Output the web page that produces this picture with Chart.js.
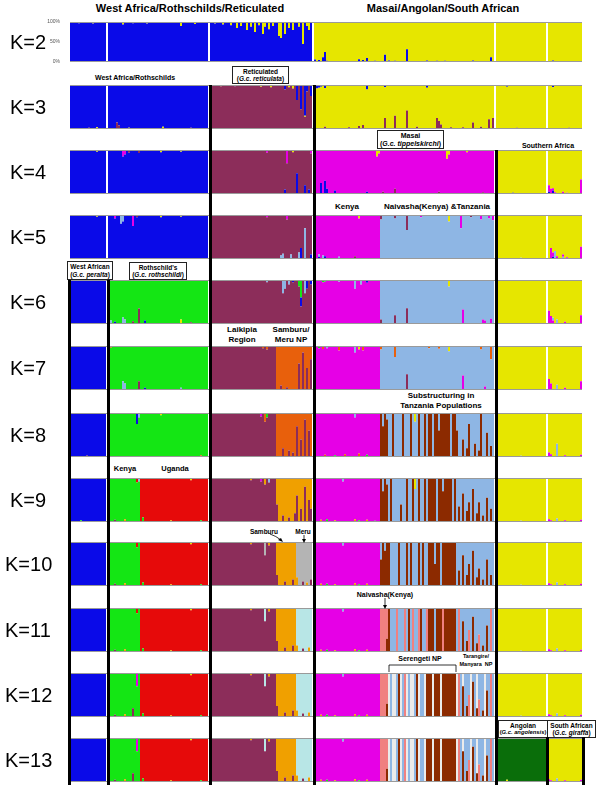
<!DOCTYPE html>
<html><head><meta charset="utf-8">
<script src="https://cdn.jsdelivr.net/npm/chart.js@4.4.1/dist/chart.umd.min.js"></script>
<style>
body{margin:0;width:600px;height:792px;position:relative;background:#fff;font-family:"Liberation Sans",Arial,sans-serif;overflow:hidden}
canvas{position:absolute}
.k{position:absolute;font-size:20px;line-height:20px;color:#000;transform:translateY(-50%)}
.t{position:absolute;font-weight:bold;white-space:nowrap;color:#000;transform:translate(-50%,-50%);text-align:center}
.box{position:absolute;border:1px solid #222;background:#fff;font-weight:bold;text-align:center;box-sizing:border-box;white-space:nowrap;color:#000;display:flex;flex-direction:column;justify-content:center;line-height:1.1;overflow:hidden}
.box i{font-style:italic}
svg{position:absolute;left:0;top:0}
</style>
</head><body>
<script>
// ---------- DATA ----------
// individuals per population, left to right
const popNames = ["West African","Kenya","Uganda","Laikipia","Samburu","Meru","Masai Kenya","Naivasha","Serengeti NP","Tarangire/Manyara NP","Angolan","South African"];
const popSizes = [18,16,34,33,10,8,33,4,34,19,25,17];
const gapAfter = [0,2,5,9,10];
const kLabels = ["K=2","K=3","K=4","K=5","K=6","K=7","K=8","K=9","K=10","K=11","K=12","K=13"];
const yTicks = [0,50,100];
// cluster codes
const clusterColors = {b:'#0A0AE8',y:'#E6E600',m:'#8C2D5A',p:'#E600E6',l:'#8EB6E4',g:'#14E614',o:'#E8600C',a:'#F0A000',r:'#E60A0A',n:'#8C2A00',s:'#B4B4B4',c:'#B8E6E6',k:'#F08080',w:'#EBEBEB',d:'#0A6E0A'};
// stacking order of the clusters (bottom -> top) for each K
const stackOrders = ['by','myb','bmpy','blmpy','mplybg','mplybgo','nmogplyb','nmagrplyb','nmasgrplyb','nkmacgrplyb','nkwmacgrplyb','nkwmacgrplybd'];
// membership per population: "base idx:spec ..." or "base | spec spec ..." (percent, last letter = remainder)
const k2 = ["b 4:b97y 11:b96y","b 7:b94y 12:b97y","b 3:b96y 20:b90y 27:b95y",
 "b 2:b96y 6:b94y 10:b92y 13:b85y 15:b90y 18:b80y 20:b88y 22:b75y 24:b92y 26:b70y 27:b88y 29:b82y 31:b90y",
 "b 1:b65y 2:b60y 4:b70y 6:b85y 8:b80y","b 1:b88y 3:b45y 5:b90y 6:b80y",
 "y 0:b6y 2:b5y 4:b12y 5:b25y 6:b3y 10:b2y 22:b7y 24:b5y 26:b10y 30:b3y","y 2:b18y",
 "y 0:b4y 3:b3y 9:b32y 19:b4y 24:b3y 28:b3y","y 8:b4y 17:b12y","y 6:b2y","y 2:b4y"];
const k3 = ["b 9:m3b 13:y4b","b 4:m15b 5:m8b 10:y3b","b 11:y5b 25:m3b",
 "m 5:m97y 12:m97b 25:m96y 30:m95y","m 4:m90b 6:m95y 8:m92y","m 0:m66b 2:m45b 4:m28y2b 5:m85b 7:m75b",
 "y 1:y92b 2:y94b 3:y96b 5:m5y88b 17:m4y 22:m7y 24:m9y 26:y90b","y 2:m25y70b",
 "y 3:m30y 9:m42y 14:m5y 19:y94b 24:m25y 25:m18y 26:m10y 31:m4y","y 3:m4y 8:m15y 12:m5y 16:m22y 18:m25y",
 "y 5:y96b 10:m3y","y 2:y95b 10:m3y"];
const k4 = ["b 13:b96y","b 7:b85p 8:b90p 10:b94m 15:b93m","b 10:b95y 20:b96y",
 "m 28:m94p","m 4:b10m 5:m70p 8:m95y","m 0:b47m 4:b20m 6:b10m 7:m92p",
 "p 3:b25p 5:b30p 6:b12p 10:b8p 26:b5p 31:p85y 32:p92y","p 1:m5p",
 "p 3:m12p 25:m5p 29:p80y 30:p90y","p 5:p95y 13:m4p","y 8:b3y",
 "y 0:b5p15y 1:p12y 2:b8p5y 3:p4y 7:p5y 9:p3y 16:p33y"];
const k5 = ["b 13:b96y","b 3:b92p 6:b80l 7:b85l 12:b75p 14:b95m","b 10:b95y 20:b96y",
 "m 28:m95p","m 2:l8m 3:l12m 5:m90p 7:l10m","m 1:l15m 2:b25m 4:l70m 7:b10m",
 "p 2:b5l5p 4:l8p 5:b6p 12:l5p 20:m6p 22:p92y","l 0:l90m",
 "l 3:l92m 9:l66m 16:l95p 30:l85y","l 2:l70p 7:l95m 12:l90p 16:l92p 18:l88p","y 12:l3y",
 "y 1:p25y 2:b5p10y 3:l18y 4:p6y 7:l5p5y 9:p4y 16:p28y"];
const k6 = ["b","g 1:l8g 3:b5g 7:l15g 8:l10g 12:m6g 15:m35g","g 2:b8g 20:y10g 25:m4g",
 "m 28:m95l","m 3:m70l 4:m80l 6:m90l 8:m95b","m 1:m85g 2:m40b20g 4:m70l 5:m80b 7:m90b",
 "p 4:p95g 5:p96g 12:l4p 20:p80l 23:p90l 26:p94b","l 0:m10l",
 "l 3:m20l 9:m36l 30:l85y","l 3:p33l 13:p10l 14:p8l 17:p12l","y",
 "y 0:p30y 1:p18y 2:p8l6y 4:l10y 8:p5y 16:p20y"];
const k7 = ["b","g 0:g94o 1:g96o 7:g80l 8:g85l 15:m20g","g 2:b5g 20:g95l",
 "m 26:m95o 28:m92o","o 2:m10o 5:m6o","o 1:m60o 3:m85o 5:m50o 7:m70o",
 "p 2:p95g 4:p93o 6:p95l 12:p90o 20:p85l 22:p92y 24:p90o","l 0:l92o",
 "l 3:l75o 9:m36l 20:l95o 25:l94o 30:l88y","l 3:p33l 12:l92o 14:p8l 17:l70o","y",
 "y 0:p25y 1:p15y 4:l12y 8:p5y 16:p20y"];
const k8 = ["b 8:o3b","g 14:g75b 15:g90l","g 10:g95y 30:o4g",
 "m 25:m92p 27:m80o 28:m90g","o 3:m20o 6:m15o 8:m10o","o 0:m70o 2:m40o 4:m85o 6:m60o",
 "p 0:g8p 5:o5p 10:g4p 15:o6p 20:p90l 22:o8p 26:g5p","n 1:n70l 3:n85l",
 "n | l l n l l l l n l l l n l l80y l n l l n l n n l n n n60l n n n n n l n n",
 "l | n60l l l n40l l n20l n75l l l n30l l n15l n l l n55l l n25l l","y 12:l3y",
 "y 0:p10y 1:p6y 4:l30y 8:p4y 16:p5y"];
const k9 = ["b 5:b96g","g 3:m5g 8:a6g 14:r10g 15:g92l","r 1:g10r 15:a4r 25:r95y 30:g4r",
 "m 20:m95a 25:m92p 27:m85a 29:m90l","a 0:m40a 3:m15a 6:m10a 9:m20a","a 0:m60a 2:m30a 4:m80a 6:m50a 7:m30a",
 "p 0:g8p 3:a5p 6:g6p 10:a4p 14:p92l 20:a6p 22:g4p 26:a5p 30:g3p","n 1:n70l 3:n85l",
 "n | l n l l l l n40l l l n l l n l75y l n l l n l n n n n l n n n70l n n n n l n",
 "l | l n35l l n65l l n25l n45l l n75l l n20l n45l l n15l l n55l l n30l l","y 12:l3y",
 "y 0:p6y 1:p4y 4:l8y 8:p4y 16:p5y"];
const k10 = ["b","g 3:m5g 8:a6g 14:r12g","r 1:g8r 15:a4r 25:r95y 30:g4r",
 "m 20:m95a 27:m70s 29:m92a","a 0:m25a 4:m10a 8:m15a","s 0:a20s 3:m10s 5:a8s 7:m15s",
 "p 0:g10p 3:a5p 6:g5p 10:a4p 14:p92l 20:a6p 22:g4p 26:a5p","n 0:n60l 2:n80l",
 "n | n l l l l n l l l n l n l l l n l n l l n n n n50l n n l n n n n n n n",
 "l | l n35l l n70l l n25l n50l l n80l l n20l n40l l n15l l n60l l n25l l","y 12:l3y",
 "y 0:p6y 1:p4y 4:l8y 8:p4y 16:p5y"];
const k11 = ["b","g 3:m5g 8:a6g 14:r12g","r 1:g8r 15:a4r 25:r95y 30:g4r",
 "m 20:m95a 27:m70c 29:m92a","a 0:m25a 4:m10a 8:m15a","c 0:a15c 3:m8c 6:a10c",
 "p 0:g10p 3:a5p 6:g5p 10:a4p 14:p92l 20:a6p 22:g4p 26:a5p","k 3:k70n",
 "n | n l l l k l l l k l n l k l l k n l l k n n n l n n n k n n n n n n",
 "l | l k l n70l l n25l k50l l n80l l n20l k40l l n15l l n60l l k l","y 12:l3y",
 "y 0:p6y 1:p4y 4:l8y 8:p4y 16:p5y"];
const k12 = ["b","g 3:m5g 8:a6g 12:m20g 14:p30g","r 1:g8r 15:a4r 25:r95y 30:g4r",
 "m 20:m95a 27:m70c 29:m92a","a 0:m25a 4:m10a 8:m15a","c 0:a15c 3:m8c 6:a10c",
 "p 0:g10p 3:a5p 6:g5p 10:a4p 14:p92l 20:a6p 22:g4p 26:a5p","k 3:k70n",
 "n | w l w w l n w l k w l w w l n w l l w n n n w n n n w n n n n n n n",
 "l | w k l n70w l n25l k50l w n80l l n20w k40l l n15l w n60l l k l","y 12:l3y",
 "y 0:p6y 1:p4y 4:l8y 8:p4y 16:p5y"];
const k13 = ["b","g 3:m5g 8:a6g 12:m20g 14:p30g","r 1:g8r 15:a4r 25:r95y 30:g4r",
 "m 20:m95a 27:m70c 29:m92a","a 0:m25a 4:m10a 8:m15a","c 0:a15c 3:m8c 6:a10c",
 "p 0:g10p 3:a5p 6:g5p 10:a4p 14:p92l 20:a6p 22:g4p 26:a5p","k 3:k70n",
 "n | w l w w l n w l k w l w w l n w l l w n n n w n n n w n n n n n n n",
 "l | w k l n70w l n25l k50l w n80l l n20w k40l l n15l w n60l l k l","d 5:d95y",
 "y 0:p6y 1:p4y 4:l8y 8:p4y 16:p5y"];
const rowsData = [k2,k3,k4,k5,k6,k7,k8,k9,k10,k11,k12,k13];

// ---------- LAYOUT (positions only) ----------
const rowTops = [20,85,150,215,280,346,413,478,542,608,673,738];
const ROW_H = 44, PLOT_W = 512, AXIS_W = 30;

function parseSpec(s){
  const out={}; let rest=100; const parts=[]; const re=/([a-z])(\d*)/g; let m;
  while((m=re.exec(s))) parts.push([m[1], m[2]===''?null:+m[2]]);
  parts.forEach(([c,v])=>{ if(v!==null){ out[c]=(out[c]||0)+v; rest-=v; } });
  parts.forEach(([c,v])=>{ if(v===null){ out[c]=(out[c]||0)+Math.max(rest,0); } });
  return out;
}
function buildRow(pops){
  const inds=[];
  pops.forEach((ps,pi)=>{
    let base, list=[], over=[];
    if(ps.includes('|')){ const [b,rest]=ps.split('|'); base=b.trim(); list=rest.trim().split(/\s+/); }
    else { const toks=ps.trim().split(/\s+/); base=toks[0]; over=toks.slice(1); }
    const arr=new Array(popSizes[pi]).fill(base);
    list.forEach((t,i)=>{ if(i<arr.length) arr[i]=t; });
    over.forEach(t=>{ const [i,sp]=t.split(':'); arr[+i]=sp; });
    arr.forEach(sp=>inds.push(parseSpec(sp)));
    if(gapAfter.includes(pi)) inds.push({});
  });
  return inds;
}
const frame={id:'frame',afterDatasetsDraw(ch){const {ctx,chartArea:a}=ch;ctx.save();ctx.strokeStyle='#9a9a9a';ctx.lineWidth=1;ctx.beginPath();ctx.moveTo(a.left,a.top+0.5);ctx.lineTo(a.right,a.top+0.5);ctx.moveTo(a.left,a.bottom-0.5);ctx.lineTo(a.right,a.bottom-0.5);ctx.stroke();ctx.restore();}};

rowsData.forEach((rd,ri)=>{
  const inds=buildRow(rd);
  const axis=ri===0;
  const cv=document.createElement('canvas');
  const left=axis?70-AXIS_W:70, w=axis?PLOT_W+AXIS_W:PLOT_W, h=axis?ROW_H+6:ROW_H, top=axis?rowTops[ri]-3:rowTops[ri];
  cv.width=w; cv.height=h;
  cv.style.left=left+'px'; cv.style.top=top+'px'; cv.style.width=w+'px'; cv.style.height=h+'px';
  document.body.appendChild(cv);
  const datasets=stackOrders[ri].split('').map(c=>({label:c,data:inds.map(o=>o[c]||0),backgroundColor:clusterColors[c],borderWidth:0,inflateAmount:0,barPercentage:1,categoryPercentage:1}));
  const yScale={stacked:true,min:0,max:100,display:axis,grid:{display:false},border:{display:false},
           afterBuildTicks(s){s.ticks=yTicks.map(v=>({value:v}));},
           ticks:{font:{size:5,family:'Liberation Sans'},color:'#555',padding:2,callback:v=>v+'%'}};
  if(axis) yScale.afterFit=function(s){s.width=AXIS_W;};
  new Chart(cv,{type:'bar',data:{labels:inds.map((_,i)=>i+1),datasets},
    plugins:[frame],
    options:{responsive:false,animation:false,devicePixelRatio:1,events:[],
      layout:{padding:axis?{top:3,bottom:3,left:0,right:0}:0},
      plugins:{legend:{display:false},tooltip:{enabled:false}},
      scales:{x:{stacked:true,display:false},y:yScale}}});
  const kl=document.createElement('div'); kl.className='k'; kl.textContent=kLabels[ri];
  kl.style.left=(ri<8?10:5)+'px'; kl.style.top=(rowTops[ri]+ROW_H/2)+'px';
  document.body.appendChild(kl);
});
</script>

<div class="t" style="left:190px;top:8px;font-size:11px">West Africa/Rothschilds/Reticulated</div>
<div class="t" style="left:443px;top:8px;font-size:11px">Masai/Angolan/South African</div>
<div class="t" style="left:135px;top:77px;font-size:7px">West Africa/Rothschilds</div>
<div class="box" style="left:232px;top:66px;width:57px;height:18px;font-size:6.5px">Reticulated<span>(<i>G.c. reticulata</i>)</span></div>
<div class="box" style="left:377px;top:130px;width:67px;height:19px;font-size:7px">Masai<span>(<i>G.c. tippelskirchi</i>)</span></div>
<div class="t" style="left:548px;top:145px;font-size:7px">Southern Africa</div>
<div class="t" style="left:347px;top:206px;font-size:8px">Kenya</div>
<div class="t" style="left:437px;top:206px;font-size:8px">Naivasha(Kenya) &amp;Tanzania</div>
<div class="box" style="left:67px;top:261px;width:46px;height:19px;font-size:6.5px">West African<span>(<i>G.c. peralta</i>)</span></div>
<div class="box" style="left:129px;top:262px;width:58px;height:18px;font-size:6.5px">Rothschild's<span>(<i>G.c. rothschildi</i>)</span></div>
<div class="t" style="left:242px;top:335px;font-size:8px;line-height:10px">Laikipia<br>Region</div>
<div class="t" style="left:291px;top:335px;font-size:8px;line-height:10px">Samburu/<br>Meru NP</div>
<div class="t" style="left:441px;top:401px;font-size:8px;line-height:10px">Substructuring in<br>Tanzania Populations</div>
<div class="t" style="left:125px;top:468px;font-size:7.5px">Kenya</div>
<div class="t" style="left:175px;top:468px;font-size:7.5px">Uganda</div>
<div class="t" style="left:264px;top:531px;font-size:6.5px">Samburu</div>
<div class="t" style="left:303px;top:531px;font-size:6.5px">Meru</div>
<div class="t" style="left:385px;top:594px;font-size:7px">Naivasha(Kenya)</div>
<div class="t" style="left:420px;top:658px;font-size:7px">Serengeti NP</div>
<div class="t" style="left:476px;top:660px;font-size:5.5px;line-height:8px">Tarangire/<br>Manyara&nbsp; NP</div>
<div class="box" style="left:498px;top:720px;width:50px;height:18px;font-size:6.5px">Angolan<span style="font-size:5.8px">(<i>G.c. angolensis</i>)</span></div>
<div class="box" style="left:547px;top:720px;width:49px;height:18px;font-size:6.5px">South African<span>(<i>G.c. giraffa</i>)</span></div>

<svg width="600" height="792" viewBox="0 0 600 792">
 <g fill="#000">
  <rect x="68" y="280" width="3" height="505"/>
  <rect x="107" y="280" width="3" height="505"/>
  <rect x="209" y="85" width="3" height="700"/>
  <rect x="313" y="85" width="3" height="700"/>
  <rect x="495" y="150" width="3" height="635"/>
  <rect x="546" y="737" width="3" height="48"/>
  <rect x="582" y="737" width="3" height="48"/>
 </g>
 <g stroke="#000" stroke-width="0.8" fill="none">
  <path d="M270 534 Q276 536 281 540"/>
  <path d="M304 535 L304 540"/>
  <path d="M385 598 L385 606"/>
  <path d="M389 672 L389 665 L456 665 L456 672"/>
 </g>
 <g fill="#000">
  <path d="M283 542 L278 540 L281 538 Z"/>
  <path d="M302 539 L306 539 L304 543 Z"/>
  <path d="M383 605 L387 605 L385 609 Z"/>
 </g>
</svg>
</body></html>
